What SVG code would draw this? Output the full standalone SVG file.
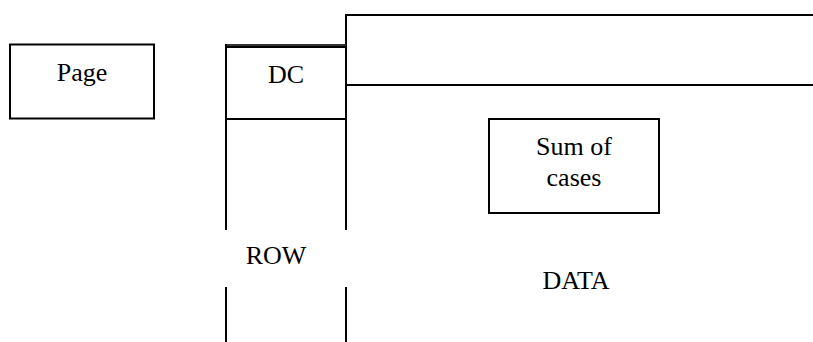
<svg xmlns="http://www.w3.org/2000/svg" width="813" height="342" viewBox="0 0 813 342">
<style>
.ln{stroke:#000;stroke-width:2;fill:none}
.box{stroke:#000;stroke-width:2;fill:#fff}
.t{font-size:26px;fill:#000;text-anchor:middle}
</style>
<rect width="813" height="342" fill="#fff"/>
<g id="data">
<line class="ln" x1="346" y1="15" x2="813" y2="15"/>
<line class="ln" x1="346" y1="85" x2="813" y2="85"/>
<line class="ln" x1="346" y1="14" x2="346" y2="342"/>
<text class="t" font-family="Liberation Serif, DejaVu Serif, serif" x="576" y="289">DATA</text>
</g>
<g id="dc">
<line x1="226" y1="45.5" x2="346" y2="45.5" stroke="#333" stroke-width="3"/>
<line class="ln" x1="226" y1="47" x2="346" y2="47"/>
<line class="ln" x1="226" y1="119" x2="346" y2="119"/>
<line class="ln" x1="226" y1="44" x2="226" y2="342"/>
<text class="t" font-family="Liberation Serif, DejaVu Serif, serif" x="286" y="83">DC</text>
</g>
<g id="row">
<rect x="225" y="230" width="122" height="57" fill="#fff"/>
<text class="t" font-family="Liberation Serif, DejaVu Serif, serif" x="276" y="264">ROW</text>
</g>
<g id="page">
<rect class="box" x="10" y="44.5" width="144" height="74"/>
<text class="t" font-family="Liberation Serif, DejaVu Serif, serif" x="82" y="81">Page</text>
</g>
<g id="sum">
<rect class="box" x="489" y="119" width="170" height="94"/>
<text class="t" font-family="Liberation Serif, DejaVu Serif, serif" x="574" y="155">Sum of</text>
<text class="t" font-family="Liberation Serif, DejaVu Serif, serif" x="574" y="186">cases</text>
</g>
<g id="connectors"/>
</svg>
